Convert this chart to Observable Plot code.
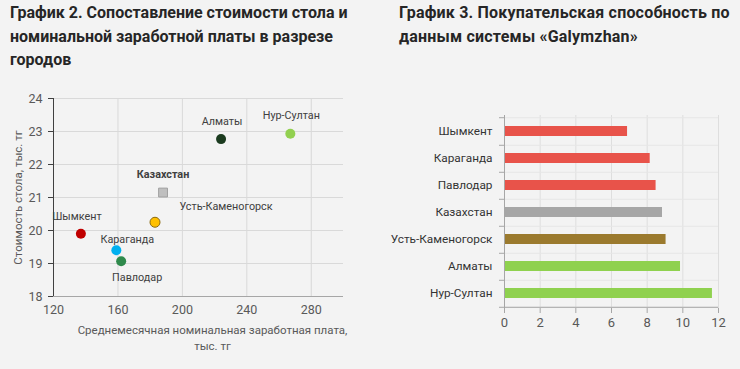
<!DOCTYPE html>
<html><head><meta charset="utf-8">
<script src="https://cdn.jsdelivr.net/npm/d3@7"></script>
<script src="https://cdn.jsdelivr.net/npm/@observablehq/plot@0.6"></script>
<style>
body{margin:0;background:#f3f3f3;width:740px;height:369px;overflow:hidden;position:relative;font-family:Roboto,sans-serif;}
.title{position:absolute;font-weight:bold;font-size:16px;line-height:23.5px;color:#262626;white-space:nowrap;}
#t1{left:10px;top:1px;}
#t2{left:399px;top:1px;letter-spacing:0.2px;}
#c1{position:absolute;left:0;top:80px;}
#c2{position:absolute;left:370px;top:80px;}
</style></head><body>
<div class="title" id="t1">График 2. Сопоставление стоимости стола и<br>номинальной заработной платы в разрезе<br>городов</div>
<div class="title" id="t2">График 3. Покупательская способность по<br>данным системы «Galymzhan»</div>
<div id="c1"></div>
<div id="c2"></div>
<script>
// ---- Chart 2 data (scatter) ----
const cities = ["Шымкент","Караганда","Павлодар","Усть-Каменогорск","Казахстан","Алматы","Нур-Султан"];
const salary = [137, 159, 162, 183, 188, 224, 267];
const tableCost = [19.9, 19.4, 19.07, 20.25, 21.15, 22.77, 22.93];
const scatterXTicks = [120, 160, 200, 240, 280];
const scatterYTicks = [18, 19, 20, 21, 22, 23, 24];
const xLabel = "Среднемесячная номинальная заработная плата,\nтыс. тг";
const yLabel = "Стоимость стола, тыс. тг";

// ---- Chart 3 data (bars) ----
const barCities = ["Шымкент","Караганда","Павлодар","Казахстан","Усть-Каменогорск","Алматы","Нур-Султан"];
const purchasing = [6.9, 8.17, 8.5, 8.86, 9.06, 9.87, 11.66];
const barXTicks = [0, 2, 4, 6, 8, 10, 12];

// ---- styles ----
const dotColor = {"Шымкент":"#c00000","Караганда":"#00b0f0","Павлодар":"#2f8a4c","Усть-Каменогорск":"#ffc000","Казахстан":"#bfbfbf","Алматы":"#1b3b1f","Нур-Султан":"#92d050"};
const dotStroke = {"Усть-Каменогорск":"#8a6a10","Казахстан":"#a0a0a0"};
const labelOffset = {"Шымкент":[-4,-17],"Караганда":[11,-11],"Павлодар":[16,16],"Усть-Каменогорск":[71,-16],"Казахстан":[0,-18],"Алматы":[1,-18],"Нур-Султан":[1,-18]};
const barColor = {"Шымкент":"#e8534a","Караганда":"#e8534a","Павлодар":"#e8534a","Казахстан":"#a6a6a6","Усть-Каменогорск":"#9b7a2e","Алматы":"#8fd14f","Нур-Султан":"#8fd14f"};

const scatter = cities.map((c,i)=>({city:c, salary:salary[i], cost:tableCost[i]}));
const others = scatter.filter(d=>d.city!=="Казахстан");
const kaz = scatter.filter(d=>d.city==="Казахстан");

const labelMarks = scatter.map(d=>Plot.text([d], {
  x:"salary", y:"cost", text:"city",
  dx: labelOffset[d.city][0], dy: labelOffset[d.city][1],
  fill:"#404040", fontSize:10.8, fontWeight: d.city==="Казахстан" ? "bold" : "normal"
}));

const p1 = Plot.plot({
  width:370, height:280, marginLeft:53, marginRight:27, marginTop:18, marginBottom:64,
  style:{background:"transparent", fontFamily:"Roboto, sans-serif", fontSize:"12px", color:"#595959"},
  x:{domain:[120,300]}, y:{domain:[18,24]},
  marks:[
    Plot.gridX(scatterXTicks.slice(1), {stroke:"#d9d9d9", strokeOpacity:1}),
    Plot.gridY(scatterYTicks.slice(1), {stroke:"#d9d9d9", strokeOpacity:1}),
    Plot.axisX(scatterXTicks, {tickSize:0, tickPadding:9, label:null, fill:"#595959", fontSize:12.5}),
    Plot.axisY(scatterYTicks, {tickSize:5, tickPadding:6, label:null, fill:"#595959", stroke:"#404040", fontSize:12.5}),
    Plot.ruleY([18], {stroke:"#a6a6a6"}),
    Plot.ruleX([120], {stroke:"#404040"}),
    Plot.dot(others, {x:"salary", y:"cost", r:5, fill:d=>dotColor[d.city], stroke:d=>dotStroke[d.city]||"none", strokeWidth:1}),
    Plot.dot(kaz, {x:"salary", y:"cost", r:5, symbol:"square", fill:d=>dotColor[d.city], stroke:d=>dotStroke[d.city], strokeWidth:1}),
    ...labelMarks,
    Plot.text([xLabel], {frameAnchor:"bottom", text:d=>d, dx:14, dy:26, lineAnchor:"top", lineHeight:1.4, fontSize:11.5, fill:"#595959"}),
    Plot.text([yLabel], {frameAnchor:"left", textAnchor:"middle", text:d=>d, dx:-35, rotate:-90, fontSize:11.5, fill:"#595959"})
  ]
});
document.getElementById("c1").append(p1);

const bars = barCities.map((c,i)=>({city:c, value:purchasing[i]}));
const fh = 280-35-52;
const half = fh/barCities.length/2;
const p2 = Plot.plot({
  width:370, height:280, marginLeft:134, marginRight:22, marginTop:35, marginBottom:52,
  style:{background:"transparent", fontFamily:"Roboto, sans-serif", fontSize:"12px", color:"#333333"},
  x:{domain:[0,12]},
  y:{domain:barCities, paddingInner:0.64, paddingOuter:0.32},
  marks:[
    Plot.gridX(barXTicks.slice(1), {stroke:"#dedede", strokeOpacity:1}),
    Plot.gridY(barCities, {dy:half, stroke:"#e6e6e6", strokeOpacity:1}),
    Plot.gridY([barCities[0]], {dy:-half, stroke:"#e6e6e6", strokeOpacity:1}),
    Plot.barX(bars, {y:"city", x:"value", fill:d=>barColor[d.city]}),
    Plot.ruleX([0], {stroke:"#a6a6a6"}),
    Plot.ruleY([barCities[barCities.length-1]], {dy:half, stroke:"#a6a6a6"}),
    Plot.axisY({tickSize:0, tickPadding:12, label:null, fill:"#333333", fontSize:11.8}),
    Plot.axisY({tickSize:5, dy:half, tickFormat:()=>"", label:null, stroke:"#a6a6a6"}),
    Plot.axisY([barCities[0]], {tickSize:5, dy:-half, tickFormat:()=>"", label:null, stroke:"#a6a6a6"}),
    Plot.axisX(barXTicks, {tickSize:5, tickPadding:4, label:null, fill:"#595959", stroke:"#a6a6a6", fontSize:13})
  ]
});
document.getElementById("c2").append(p2);
</script>
</body></html>
